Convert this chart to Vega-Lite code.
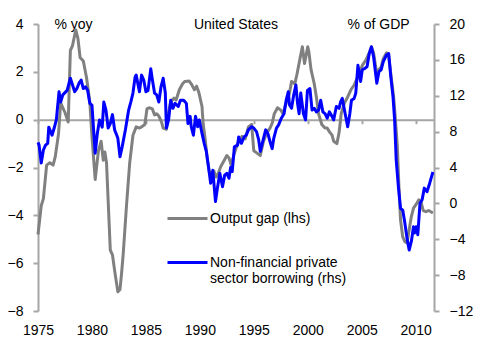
{
  "$schema": "https://vega.github.io/schema/vega-lite/v6.json",
  "width": 396,
  "height": 287,
  "autosize": {"type": "none"},
  "padding": {"left": 38, "top": 24, "right": 49, "bottom": 39},
  "background": "white",
  "config": {
    "font": "Liberation Sans",
    "view": {"stroke": null},
    "axis": {
      "labelFont": "Liberation Sans",
      "labelFontSize": 14,
      "labelColor": "black",
      "grid": false,
      "domainColor": "#a6a6a6",
      "tickColor": "#a6a6a6",
      "domainWidth": 2,
      "tickWidth": 2,
      "titleFont": "Liberation Sans",
      "titleFontSize": 14,
      "titleFontWeight": "normal",
      "titleColor": "black"
    }
  },
  "title": {
    "text": "United States",
    "fontSize": 14,
    "fontWeight": "normal",
    "font": "Liberation Sans",
    "color": "black",
    "anchor": "middle",
    "baseline": "middle",
    "offset": -22
  },
  "datasets": {
    "gap": [
      {"year": 1975.0, "value": -4.8, "series": "Output gap (lhs)"},
      {"year": 1975.3, "value": -3.6, "series": "Output gap (lhs)"},
      {"year": 1975.5, "value": -3.3, "series": "Output gap (lhs)"},
      {"year": 1975.8, "value": -1.9, "series": "Output gap (lhs)"},
      {"year": 1976.1, "value": -1.8, "series": "Output gap (lhs)"},
      {"year": 1976.4, "value": -1.9, "series": "Output gap (lhs)"},
      {"year": 1976.6, "value": -1.55, "series": "Output gap (lhs)"},
      {"year": 1976.9, "value": -0.6, "series": "Output gap (lhs)"},
      {"year": 1977.1, "value": 0.7, "series": "Output gap (lhs)"},
      {"year": 1977.5, "value": 0.3, "series": "Output gap (lhs)"},
      {"year": 1977.8, "value": -0.1, "series": "Output gap (lhs)"},
      {"year": 1978.0, "value": 2.9, "series": "Output gap (lhs)"},
      {"year": 1978.2, "value": 3.1, "series": "Output gap (lhs)"},
      {"year": 1978.5, "value": 3.75, "series": "Output gap (lhs)"},
      {"year": 1978.7, "value": 3.4, "series": "Output gap (lhs)"},
      {"year": 1978.9, "value": 2.6, "series": "Output gap (lhs)"},
      {"year": 1979.2, "value": 2.45, "series": "Output gap (lhs)"},
      {"year": 1979.5, "value": 1.75, "series": "Output gap (lhs)"},
      {"year": 1979.8, "value": 0.75, "series": "Output gap (lhs)"},
      {"year": 1980.0, "value": -0.7, "series": "Output gap (lhs)"},
      {"year": 1980.3, "value": -2.5, "series": "Output gap (lhs)"},
      {"year": 1980.6, "value": -1.3, "series": "Output gap (lhs)"},
      {"year": 1980.85, "value": -0.9, "series": "Output gap (lhs)"},
      {"year": 1981.05, "value": -1.7, "series": "Output gap (lhs)"},
      {"year": 1981.2, "value": -1.35, "series": "Output gap (lhs)"},
      {"year": 1981.35, "value": -1.8, "series": "Output gap (lhs)"},
      {"year": 1981.7, "value": -5.45, "series": "Output gap (lhs)"},
      {"year": 1981.9, "value": -5.65, "series": "Output gap (lhs)"},
      {"year": 1982.1, "value": -6.3, "series": "Output gap (lhs)"},
      {"year": 1982.4, "value": -7.2, "series": "Output gap (lhs)"},
      {"year": 1982.6, "value": -7.1, "series": "Output gap (lhs)"},
      {"year": 1982.75, "value": -6.4, "series": "Output gap (lhs)"},
      {"year": 1982.9, "value": -5.6, "series": "Output gap (lhs)"},
      {"year": 1983.2, "value": -3.6, "series": "Output gap (lhs)"},
      {"year": 1983.5, "value": -1.8, "series": "Output gap (lhs)"},
      {"year": 1983.8, "value": -0.65, "series": "Output gap (lhs)"},
      {"year": 1984.1, "value": -0.3, "series": "Output gap (lhs)"},
      {"year": 1984.4, "value": -0.35, "series": "Output gap (lhs)"},
      {"year": 1984.6, "value": -0.3, "series": "Output gap (lhs)"},
      {"year": 1984.9, "value": -0.2, "series": "Output gap (lhs)"},
      {"year": 1985.1, "value": 0.45, "series": "Output gap (lhs)"},
      {"year": 1985.3, "value": 0.5, "series": "Output gap (lhs)"},
      {"year": 1985.6, "value": 0.45, "series": "Output gap (lhs)"},
      {"year": 1985.8, "value": 0.2, "series": "Output gap (lhs)"},
      {"year": 1986.0, "value": 0.25, "series": "Output gap (lhs)"},
      {"year": 1986.2, "value": 0.15, "series": "Output gap (lhs)"},
      {"year": 1986.45, "value": -0.1, "series": "Output gap (lhs)"},
      {"year": 1986.6, "value": -0.35, "series": "Output gap (lhs)"},
      {"year": 1986.9, "value": -0.4, "series": "Output gap (lhs)"},
      {"year": 1987.1, "value": 0.3, "series": "Output gap (lhs)"},
      {"year": 1987.3, "value": 0.75, "series": "Output gap (lhs)"},
      {"year": 1987.6, "value": 0.9, "series": "Output gap (lhs)"},
      {"year": 1987.8, "value": 0.82, "series": "Output gap (lhs)"},
      {"year": 1988.1, "value": 1.25, "series": "Output gap (lhs)"},
      {"year": 1988.4, "value": 1.5, "series": "Output gap (lhs)"},
      {"year": 1988.6, "value": 1.6, "series": "Output gap (lhs)"},
      {"year": 1989.0, "value": 1.62, "series": "Output gap (lhs)"},
      {"year": 1989.2, "value": 1.5, "series": "Output gap (lhs)"},
      {"year": 1989.5, "value": 1.25, "series": "Output gap (lhs)"},
      {"year": 1989.7, "value": 1.4, "series": "Output gap (lhs)"},
      {"year": 1989.9, "value": 1.15, "series": "Output gap (lhs)"},
      {"year": 1990.2, "value": 0.55, "series": "Output gap (lhs)"},
      {"year": 1990.3, "value": -0.15, "series": "Output gap (lhs)"},
      {"year": 1990.5, "value": -0.85, "series": "Output gap (lhs)"},
      {"year": 1990.7, "value": -1.7, "series": "Output gap (lhs)"},
      {"year": 1990.9, "value": -2.25, "series": "Output gap (lhs)"},
      {"year": 1991.1, "value": -2.3, "series": "Output gap (lhs)"},
      {"year": 1991.3, "value": -2.15, "series": "Output gap (lhs)"},
      {"year": 1991.5, "value": -2.4, "series": "Output gap (lhs)"},
      {"year": 1991.7, "value": -2.25, "series": "Output gap (lhs)"},
      {"year": 1991.95, "value": -1.95, "series": "Output gap (lhs)"},
      {"year": 1992.2, "value": -1.75, "series": "Output gap (lhs)"},
      {"year": 1992.5, "value": -1.5, "series": "Output gap (lhs)"},
      {"year": 1992.7, "value": -1.6, "series": "Output gap (lhs)"},
      {"year": 1992.9, "value": -1.9, "series": "Output gap (lhs)"},
      {"year": 1993.2, "value": -1.4, "series": "Output gap (lhs)"},
      {"year": 1993.5, "value": -1.0, "series": "Output gap (lhs)"},
      {"year": 1993.9, "value": -0.7, "series": "Output gap (lhs)"},
      {"year": 1994.2, "value": -0.8, "series": "Output gap (lhs)"},
      {"year": 1994.5, "value": -0.3, "series": "Output gap (lhs)"},
      {"year": 1994.8, "value": -0.2, "series": "Output gap (lhs)"},
      {"year": 1995.0, "value": -1.3, "series": "Output gap (lhs)"},
      {"year": 1995.3, "value": -1.4, "series": "Output gap (lhs)"},
      {"year": 1995.6, "value": -1.5, "series": "Output gap (lhs)"},
      {"year": 1995.9, "value": -0.9, "series": "Output gap (lhs)"},
      {"year": 1996.2, "value": -0.55, "series": "Output gap (lhs)"},
      {"year": 1996.5, "value": -0.35, "series": "Output gap (lhs)"},
      {"year": 1996.7, "value": -0.15, "series": "Output gap (lhs)"},
      {"year": 1996.9, "value": 0.25, "series": "Output gap (lhs)"},
      {"year": 1997.2, "value": 0.5, "series": "Output gap (lhs)"},
      {"year": 1997.5, "value": 0.4, "series": "Output gap (lhs)"},
      {"year": 1997.7, "value": 0.25, "series": "Output gap (lhs)"},
      {"year": 1998.0, "value": 0.7, "series": "Output gap (lhs)"},
      {"year": 1998.3, "value": 1.1, "series": "Output gap (lhs)"},
      {"year": 1998.5, "value": 1.6, "series": "Output gap (lhs)"},
      {"year": 1998.8, "value": 1.5, "series": "Output gap (lhs)"},
      {"year": 1999.0, "value": 1.9, "series": "Output gap (lhs)"},
      {"year": 1999.3, "value": 2.6, "series": "Output gap (lhs)"},
      {"year": 1999.5, "value": 3.05, "series": "Output gap (lhs)"},
      {"year": 1999.7, "value": 2.35, "series": "Output gap (lhs)"},
      {"year": 2000.0, "value": 3.05, "series": "Output gap (lhs)"},
      {"year": 2000.1, "value": 2.85, "series": "Output gap (lhs)"},
      {"year": 2000.3, "value": 2.1, "series": "Output gap (lhs)"},
      {"year": 2000.6, "value": 1.5, "series": "Output gap (lhs)"},
      {"year": 2000.8, "value": 0.95, "series": "Output gap (lhs)"},
      {"year": 2001.0, "value": 0.25, "series": "Output gap (lhs)"},
      {"year": 2001.3, "value": -0.2, "series": "Output gap (lhs)"},
      {"year": 2001.6, "value": -0.35, "series": "Output gap (lhs)"},
      {"year": 2001.8, "value": -0.35, "series": "Output gap (lhs)"},
      {"year": 2002.0, "value": -0.5, "series": "Output gap (lhs)"},
      {"year": 2002.25, "value": -0.65, "series": "Output gap (lhs)"},
      {"year": 2002.4, "value": -0.9, "series": "Output gap (lhs)"},
      {"year": 2002.7, "value": -1.0, "series": "Output gap (lhs)"},
      {"year": 2002.9, "value": -0.55, "series": "Output gap (lhs)"},
      {"year": 2003.1, "value": 0.25, "series": "Output gap (lhs)"},
      {"year": 2003.4, "value": 0.7, "series": "Output gap (lhs)"},
      {"year": 2003.7, "value": 0.95, "series": "Output gap (lhs)"},
      {"year": 2004.0, "value": 1.25, "series": "Output gap (lhs)"},
      {"year": 2004.3, "value": 1.45, "series": "Output gap (lhs)"},
      {"year": 2004.6, "value": 1.75, "series": "Output gap (lhs)"},
      {"year": 2004.9, "value": 2.1, "series": "Output gap (lhs)"},
      {"year": 2005.1, "value": 2.3, "series": "Output gap (lhs)"},
      {"year": 2005.4, "value": 2.5, "series": "Output gap (lhs)"},
      {"year": 2005.7, "value": 2.8, "series": "Output gap (lhs)"},
      {"year": 2005.9, "value": 3.05, "series": "Output gap (lhs)"},
      {"year": 2006.1, "value": 2.8, "series": "Output gap (lhs)"},
      {"year": 2006.4, "value": 1.9, "series": "Output gap (lhs)"},
      {"year": 2006.6, "value": 2.1, "series": "Output gap (lhs)"},
      {"year": 2006.8, "value": 2.2, "series": "Output gap (lhs)"},
      {"year": 2007.0, "value": 2.55, "series": "Output gap (lhs)"},
      {"year": 2007.3, "value": 2.8, "series": "Output gap (lhs)"},
      {"year": 2007.5, "value": 2.65, "series": "Output gap (lhs)"},
      {"year": 2007.7, "value": 1.9, "series": "Output gap (lhs)"},
      {"year": 2007.96, "value": 0.95, "series": "Output gap (lhs)"},
      {"year": 2008.1, "value": 0.15, "series": "Output gap (lhs)"},
      {"year": 2008.3, "value": -1.1, "series": "Output gap (lhs)"},
      {"year": 2008.45, "value": -2.8, "series": "Output gap (lhs)"},
      {"year": 2008.6, "value": -4.2, "series": "Output gap (lhs)"},
      {"year": 2008.8, "value": -4.9, "series": "Output gap (lhs)"},
      {"year": 2009.0, "value": -5.1, "series": "Output gap (lhs)"},
      {"year": 2009.2, "value": -5.15, "series": "Output gap (lhs)"},
      {"year": 2009.4, "value": -4.6, "series": "Output gap (lhs)"},
      {"year": 2009.6, "value": -4.05, "series": "Output gap (lhs)"},
      {"year": 2009.8, "value": -3.7, "series": "Output gap (lhs)"},
      {"year": 2010.1, "value": -3.5, "series": "Output gap (lhs)"},
      {"year": 2010.3, "value": -3.35, "series": "Output gap (lhs)"},
      {"year": 2010.5, "value": -3.45, "series": "Output gap (lhs)"},
      {"year": 2010.7, "value": -3.8, "series": "Output gap (lhs)"},
      {"year": 2010.95, "value": -3.85, "series": "Output gap (lhs)"},
      {"year": 2011.2, "value": -3.8, "series": "Output gap (lhs)"},
      {"year": 2011.4, "value": -3.85, "series": "Output gap (lhs)"},
      {"year": 2011.6, "value": -3.9, "series": "Output gap (lhs)"}
    ],
    "borrow": [
      {"year": 1975.0, "value": 6.8, "series": "Non-financial private sector borrowing (rhs)"},
      {"year": 1975.1, "value": 6.5, "series": "Non-financial private sector borrowing (rhs)"},
      {"year": 1975.3, "value": 4.5, "series": "Non-financial private sector borrowing (rhs)"},
      {"year": 1975.5, "value": 5.95, "series": "Non-financial private sector borrowing (rhs)"},
      {"year": 1975.7, "value": 6.5, "series": "Non-financial private sector borrowing (rhs)"},
      {"year": 1975.9, "value": 6.7, "series": "Non-financial private sector borrowing (rhs)"},
      {"year": 1976.0, "value": 8.5, "series": "Non-financial private sector borrowing (rhs)"},
      {"year": 1976.3, "value": 7.6, "series": "Non-financial private sector borrowing (rhs)"},
      {"year": 1976.5, "value": 8.4, "series": "Non-financial private sector borrowing (rhs)"},
      {"year": 1976.7, "value": 9.3, "series": "Non-financial private sector borrowing (rhs)"},
      {"year": 1976.95, "value": 12.45, "series": "Non-financial private sector borrowing (rhs)"},
      {"year": 1977.1, "value": 11.3, "series": "Non-financial private sector borrowing (rhs)"},
      {"year": 1977.3, "value": 12.1, "series": "Non-financial private sector borrowing (rhs)"},
      {"year": 1977.7, "value": 12.6, "series": "Non-financial private sector borrowing (rhs)"},
      {"year": 1978.0, "value": 13.95, "series": "Non-financial private sector borrowing (rhs)"},
      {"year": 1978.2, "value": 13.2, "series": "Non-financial private sector borrowing (rhs)"},
      {"year": 1978.4, "value": 12.45, "series": "Non-financial private sector borrowing (rhs)"},
      {"year": 1978.6, "value": 12.8, "series": "Non-financial private sector borrowing (rhs)"},
      {"year": 1978.8, "value": 13.4, "series": "Non-financial private sector borrowing (rhs)"},
      {"year": 1979.0, "value": 13.75, "series": "Non-financial private sector borrowing (rhs)"},
      {"year": 1979.2, "value": 12.8, "series": "Non-financial private sector borrowing (rhs)"},
      {"year": 1979.4, "value": 13.0, "series": "Non-financial private sector borrowing (rhs)"},
      {"year": 1979.6, "value": 12.6, "series": "Non-financial private sector borrowing (rhs)"},
      {"year": 1979.8, "value": 11.15, "series": "Non-financial private sector borrowing (rhs)"},
      {"year": 1980.0, "value": 10.95, "series": "Non-financial private sector borrowing (rhs)"},
      {"year": 1980.3, "value": 5.6, "series": "Non-financial private sector borrowing (rhs)"},
      {"year": 1980.5, "value": 7.8, "series": "Non-financial private sector borrowing (rhs)"},
      {"year": 1980.7, "value": 9.3, "series": "Non-financial private sector borrowing (rhs)"},
      {"year": 1980.95, "value": 8.5, "series": "Non-financial private sector borrowing (rhs)"},
      {"year": 1981.1, "value": 11.3, "series": "Non-financial private sector borrowing (rhs)"},
      {"year": 1981.3, "value": 10.4, "series": "Non-financial private sector borrowing (rhs)"},
      {"year": 1981.5, "value": 8.4, "series": "Non-financial private sector borrowing (rhs)"},
      {"year": 1981.7, "value": 8.9, "series": "Non-financial private sector borrowing (rhs)"},
      {"year": 1981.9, "value": 9.9, "series": "Non-financial private sector borrowing (rhs)"},
      {"year": 1982.1, "value": 8.2, "series": "Non-financial private sector borrowing (rhs)"},
      {"year": 1982.3, "value": 7.6, "series": "Non-financial private sector borrowing (rhs)"},
      {"year": 1982.4, "value": 7.25, "series": "Non-financial private sector borrowing (rhs)"},
      {"year": 1982.6, "value": 5.2, "series": "Non-financial private sector borrowing (rhs)"},
      {"year": 1982.8, "value": 6.3, "series": "Non-financial private sector borrowing (rhs)"},
      {"year": 1983.1, "value": 8.2, "series": "Non-financial private sector borrowing (rhs)"},
      {"year": 1983.4, "value": 10.4, "series": "Non-financial private sector borrowing (rhs)"},
      {"year": 1983.6, "value": 11.3, "series": "Non-financial private sector borrowing (rhs)"},
      {"year": 1983.8, "value": 12.3, "series": "Non-financial private sector borrowing (rhs)"},
      {"year": 1984.0, "value": 14.1, "series": "Non-financial private sector borrowing (rhs)"},
      {"year": 1984.1, "value": 14.3, "series": "Non-financial private sector borrowing (rhs)"},
      {"year": 1984.4, "value": 12.45, "series": "Non-financial private sector borrowing (rhs)"},
      {"year": 1984.6, "value": 14.3, "series": "Non-financial private sector borrowing (rhs)"},
      {"year": 1984.8, "value": 13.75, "series": "Non-financial private sector borrowing (rhs)"},
      {"year": 1985.0, "value": 12.45, "series": "Non-financial private sector borrowing (rhs)"},
      {"year": 1985.2, "value": 12.6, "series": "Non-financial private sector borrowing (rhs)"},
      {"year": 1985.45, "value": 15.0, "series": "Non-financial private sector borrowing (rhs)"},
      {"year": 1985.6, "value": 13.8, "series": "Non-financial private sector borrowing (rhs)"},
      {"year": 1985.8, "value": 12.3, "series": "Non-financial private sector borrowing (rhs)"},
      {"year": 1986.0, "value": 12.1, "series": "Non-financial private sector borrowing (rhs)"},
      {"year": 1986.2, "value": 11.3, "series": "Non-financial private sector borrowing (rhs)"},
      {"year": 1986.4, "value": 13.0, "series": "Non-financial private sector borrowing (rhs)"},
      {"year": 1986.6, "value": 13.95, "series": "Non-financial private sector borrowing (rhs)"},
      {"year": 1986.8, "value": 12.3, "series": "Non-financial private sector borrowing (rhs)"},
      {"year": 1986.9, "value": 8.4, "series": "Non-financial private sector borrowing (rhs)"},
      {"year": 1987.1, "value": 9.3, "series": "Non-financial private sector borrowing (rhs)"},
      {"year": 1987.3, "value": 11.5, "series": "Non-financial private sector borrowing (rhs)"},
      {"year": 1987.5, "value": 10.6, "series": "Non-financial private sector borrowing (rhs)"},
      {"year": 1987.7, "value": 11.15, "series": "Non-financial private sector borrowing (rhs)"},
      {"year": 1988.0, "value": 10.8, "series": "Non-financial private sector borrowing (rhs)"},
      {"year": 1988.2, "value": 11.5, "series": "Non-financial private sector borrowing (rhs)"},
      {"year": 1988.5, "value": 11.5, "series": "Non-financial private sector borrowing (rhs)"},
      {"year": 1988.75, "value": 11.15, "series": "Non-financial private sector borrowing (rhs)"},
      {"year": 1988.9, "value": 8.9, "series": "Non-financial private sector borrowing (rhs)"},
      {"year": 1989.1, "value": 9.7, "series": "Non-financial private sector borrowing (rhs)"},
      {"year": 1989.2, "value": 8.55, "series": "Non-financial private sector borrowing (rhs)"},
      {"year": 1989.4, "value": 7.6, "series": "Non-financial private sector borrowing (rhs)"},
      {"year": 1989.6, "value": 9.7, "series": "Non-financial private sector borrowing (rhs)"},
      {"year": 1989.8, "value": 8.55, "series": "Non-financial private sector borrowing (rhs)"},
      {"year": 1989.95, "value": 9.3, "series": "Non-financial private sector borrowing (rhs)"},
      {"year": 1990.2, "value": 7.8, "series": "Non-financial private sector borrowing (rhs)"},
      {"year": 1990.4, "value": 6.7, "series": "Non-financial private sector borrowing (rhs)"},
      {"year": 1990.6, "value": 5.8, "series": "Non-financial private sector borrowing (rhs)"},
      {"year": 1990.8, "value": 4.1, "series": "Non-financial private sector borrowing (rhs)"},
      {"year": 1991.0, "value": 2.25, "series": "Non-financial private sector borrowing (rhs)"},
      {"year": 1991.2, "value": 3.7, "series": "Non-financial private sector borrowing (rhs)"},
      {"year": 1991.45, "value": 0.2, "series": "Non-financial private sector borrowing (rhs)"},
      {"year": 1991.6, "value": 1.5, "series": "Non-financial private sector borrowing (rhs)"},
      {"year": 1991.85, "value": 3.35, "series": "Non-financial private sector borrowing (rhs)"},
      {"year": 1992.1, "value": 1.85, "series": "Non-financial private sector borrowing (rhs)"},
      {"year": 1992.3, "value": 3.15, "series": "Non-financial private sector borrowing (rhs)"},
      {"year": 1992.5, "value": 3.35, "series": "Non-financial private sector borrowing (rhs)"},
      {"year": 1992.7, "value": 2.8, "series": "Non-financial private sector borrowing (rhs)"},
      {"year": 1992.85, "value": 4.0, "series": "Non-financial private sector borrowing (rhs)"},
      {"year": 1993.0, "value": 3.55, "series": "Non-financial private sector borrowing (rhs)"},
      {"year": 1993.2, "value": 6.3, "series": "Non-financial private sector borrowing (rhs)"},
      {"year": 1993.5, "value": 6.5, "series": "Non-financial private sector borrowing (rhs)"},
      {"year": 1993.6, "value": 7.4, "series": "Non-financial private sector borrowing (rhs)"},
      {"year": 1993.85, "value": 6.7, "series": "Non-financial private sector borrowing (rhs)"},
      {"year": 1994.1, "value": 7.4, "series": "Non-financial private sector borrowing (rhs)"},
      {"year": 1994.3, "value": 7.6, "series": "Non-financial private sector borrowing (rhs)"},
      {"year": 1994.5, "value": 8.2, "series": "Non-financial private sector borrowing (rhs)"},
      {"year": 1994.8, "value": 8.55, "series": "Non-financial private sector borrowing (rhs)"},
      {"year": 1995.0, "value": 8.4, "series": "Non-financial private sector borrowing (rhs)"},
      {"year": 1995.25, "value": 8.0, "series": "Non-financial private sector borrowing (rhs)"},
      {"year": 1995.45, "value": 7.1, "series": "Non-financial private sector borrowing (rhs)"},
      {"year": 1995.6, "value": 5.8, "series": "Non-financial private sector borrowing (rhs)"},
      {"year": 1995.9, "value": 7.25, "series": "Non-financial private sector borrowing (rhs)"},
      {"year": 1996.1, "value": 8.2, "series": "Non-financial private sector borrowing (rhs)"},
      {"year": 1996.3, "value": 7.8, "series": "Non-financial private sector borrowing (rhs)"},
      {"year": 1996.5, "value": 6.9, "series": "Non-financial private sector borrowing (rhs)"},
      {"year": 1996.7, "value": 6.1, "series": "Non-financial private sector borrowing (rhs)"},
      {"year": 1996.85, "value": 7.25, "series": "Non-financial private sector borrowing (rhs)"},
      {"year": 1997.1, "value": 8.4, "series": "Non-financial private sector borrowing (rhs)"},
      {"year": 1997.3, "value": 8.75, "series": "Non-financial private sector borrowing (rhs)"},
      {"year": 1997.55, "value": 9.5, "series": "Non-financial private sector borrowing (rhs)"},
      {"year": 1997.8, "value": 10.0, "series": "Non-financial private sector borrowing (rhs)"},
      {"year": 1998.0, "value": 11.5, "series": "Non-financial private sector borrowing (rhs)"},
      {"year": 1998.2, "value": 12.45, "series": "Non-financial private sector borrowing (rhs)"},
      {"year": 1998.3, "value": 11.0, "series": "Non-financial private sector borrowing (rhs)"},
      {"year": 1998.5, "value": 10.6, "series": "Non-financial private sector borrowing (rhs)"},
      {"year": 1998.7, "value": 12.1, "series": "Non-financial private sector borrowing (rhs)"},
      {"year": 1998.9, "value": 13.2, "series": "Non-financial private sector borrowing (rhs)"},
      {"year": 1999.05, "value": 11.2, "series": "Non-financial private sector borrowing (rhs)"},
      {"year": 1999.2, "value": 10.0, "series": "Non-financial private sector borrowing (rhs)"},
      {"year": 1999.35, "value": 12.3, "series": "Non-financial private sector borrowing (rhs)"},
      {"year": 1999.6, "value": 10.0, "series": "Non-financial private sector borrowing (rhs)"},
      {"year": 1999.8, "value": 9.3, "series": "Non-financial private sector borrowing (rhs)"},
      {"year": 1999.97, "value": 12.6, "series": "Non-financial private sector borrowing (rhs)"},
      {"year": 2000.2, "value": 12.8, "series": "Non-financial private sector borrowing (rhs)"},
      {"year": 2000.4, "value": 10.4, "series": "Non-financial private sector borrowing (rhs)"},
      {"year": 2000.6, "value": 10.6, "series": "Non-financial private sector borrowing (rhs)"},
      {"year": 2000.8, "value": 10.2, "series": "Non-financial private sector borrowing (rhs)"},
      {"year": 2001.0, "value": 10.4, "series": "Non-financial private sector borrowing (rhs)"},
      {"year": 2001.2, "value": 11.5, "series": "Non-financial private sector borrowing (rhs)"},
      {"year": 2001.4, "value": 10.2, "series": "Non-financial private sector borrowing (rhs)"},
      {"year": 2001.6, "value": 10.0, "series": "Non-financial private sector borrowing (rhs)"},
      {"year": 2001.8, "value": 9.5, "series": "Non-financial private sector borrowing (rhs)"},
      {"year": 2002.0, "value": 10.2, "series": "Non-financial private sector borrowing (rhs)"},
      {"year": 2002.25, "value": 9.7, "series": "Non-financial private sector borrowing (rhs)"},
      {"year": 2002.4, "value": 9.3, "series": "Non-financial private sector borrowing (rhs)"},
      {"year": 2002.65, "value": 10.8, "series": "Non-financial private sector borrowing (rhs)"},
      {"year": 2002.9, "value": 10.6, "series": "Non-financial private sector borrowing (rhs)"},
      {"year": 2003.05, "value": 11.35, "series": "Non-financial private sector borrowing (rhs)"},
      {"year": 2003.2, "value": 11.7, "series": "Non-financial private sector borrowing (rhs)"},
      {"year": 2003.4, "value": 10.4, "series": "Non-financial private sector borrowing (rhs)"},
      {"year": 2003.7, "value": 8.55, "series": "Non-financial private sector borrowing (rhs)"},
      {"year": 2003.9, "value": 10.0, "series": "Non-financial private sector borrowing (rhs)"},
      {"year": 2004.05, "value": 11.5, "series": "Non-financial private sector borrowing (rhs)"},
      {"year": 2004.3, "value": 11.7, "series": "Non-financial private sector borrowing (rhs)"},
      {"year": 2004.45, "value": 12.3, "series": "Non-financial private sector borrowing (rhs)"},
      {"year": 2004.65, "value": 15.4, "series": "Non-financial private sector borrowing (rhs)"},
      {"year": 2004.9, "value": 13.6, "series": "Non-financial private sector borrowing (rhs)"},
      {"year": 2005.05, "value": 14.9, "series": "Non-financial private sector borrowing (rhs)"},
      {"year": 2005.3, "value": 15.05, "series": "Non-financial private sector borrowing (rhs)"},
      {"year": 2005.5, "value": 15.25, "series": "Non-financial private sector borrowing (rhs)"},
      {"year": 2005.7, "value": 16.7, "series": "Non-financial private sector borrowing (rhs)"},
      {"year": 2005.9, "value": 17.45, "series": "Non-financial private sector borrowing (rhs)"},
      {"year": 2006.1, "value": 16.35, "series": "Non-financial private sector borrowing (rhs)"},
      {"year": 2006.4, "value": 13.4, "series": "Non-financial private sector borrowing (rhs)"},
      {"year": 2006.6, "value": 14.7, "series": "Non-financial private sector borrowing (rhs)"},
      {"year": 2006.8, "value": 14.9, "series": "Non-financial private sector borrowing (rhs)"},
      {"year": 2007.0, "value": 15.8, "series": "Non-financial private sector borrowing (rhs)"},
      {"year": 2007.3, "value": 16.55, "series": "Non-financial private sector borrowing (rhs)"},
      {"year": 2007.5, "value": 16.7, "series": "Non-financial private sector borrowing (rhs)"},
      {"year": 2007.7, "value": 14.1, "series": "Non-financial private sector borrowing (rhs)"},
      {"year": 2007.9, "value": 11.9, "series": "Non-financial private sector borrowing (rhs)"},
      {"year": 2008.05, "value": 9.3, "series": "Non-financial private sector borrowing (rhs)"},
      {"year": 2008.2, "value": 4.8, "series": "Non-financial private sector borrowing (rhs)"},
      {"year": 2008.4, "value": 1.85, "series": "Non-financial private sector borrowing (rhs)"},
      {"year": 2008.6, "value": -0.55, "series": "Non-financial private sector borrowing (rhs)"},
      {"year": 2008.8, "value": -0.75, "series": "Non-financial private sector borrowing (rhs)"},
      {"year": 2009.0, "value": -2.2, "series": "Non-financial private sector borrowing (rhs)"},
      {"year": 2009.2, "value": -3.9, "series": "Non-financial private sector borrowing (rhs)"},
      {"year": 2009.4, "value": -5.2, "series": "Non-financial private sector borrowing (rhs)"},
      {"year": 2009.6, "value": -4.25, "series": "Non-financial private sector borrowing (rhs)"},
      {"year": 2009.8, "value": -2.6, "series": "Non-financial private sector borrowing (rhs)"},
      {"year": 2009.9, "value": -3.3, "series": "Non-financial private sector borrowing (rhs)"},
      {"year": 2010.05, "value": -2.6, "series": "Non-financial private sector borrowing (rhs)"},
      {"year": 2010.2, "value": -3.5, "series": "Non-financial private sector borrowing (rhs)"},
      {"year": 2010.4, "value": 0.0, "series": "Non-financial private sector borrowing (rhs)"},
      {"year": 2010.6, "value": 0.4, "series": "Non-financial private sector borrowing (rhs)"},
      {"year": 2010.8, "value": 1.7, "series": "Non-financial private sector borrowing (rhs)"},
      {"year": 2011.05, "value": 1.3, "series": "Non-financial private sector borrowing (rhs)"},
      {"year": 2011.3, "value": 2.25, "series": "Non-financial private sector borrowing (rhs)"},
      {"year": 2011.6, "value": 3.5, "series": "Non-financial private sector borrowing (rhs)"}
    ]
  },
  "layer": [
    {
      "data": {"name": "gap"},
      "mark": {"type": "line", "strokeWidth": 3, "strokeJoin": "round"},
      "encoding": {
        "x": {
          "field": "year", "type": "quantitative",
          "scale": {"domain": [1975, 2011.7], "nice": false, "zero": false},
          "axis": {"values": [1975, 1980, 1985, 1990, 1995, 2000, 2005, 2010], "format": "d", "domain": false, "ticks": false, "labelPadding": 12, "title": null, "labelFlush": false}
        },
        "y": {
          "field": "value", "type": "quantitative",
          "scale": {"domain": [-8, 4], "nice": false, "zero": false},
          "axis": {"orient": "left", "values": [-8, -6, -4, -2, 0, 2, 4], "tickSize": 5, "labelPadding": 10, "title": "% yoy", "titleAngle": 0, "titleX": 35, "titleY": 0, "titleAlign": "center", "titleBaseline": "middle"}
        },
        "color": {
          "field": "series", "type": "nominal",
          "scale": {"domain": ["Output gap (lhs)", "Non-financial private sector borrowing (rhs)"], "range": ["#808080", "#0000ff"]},
          "legend": {
            "orient": "none", "legendX": 128, "legendY": 173, "title": null,
            "symbolType": "stroke", "symbolSize": 1600, "symbolStrokeWidth": 3,
            "labelFont": "Liberation Sans", "labelFontSize": 14, "labelColor": "black", "labelLimit": 400, "labelOffset": 1,
            "rowPadding": 15,
            "labelExpr": "datum.label == 'Non-financial private sector borrowing (rhs)' ? ['Non-financial private', 'sector borrowing (rhs)'] : datum.label"
          }
        }
      }
    },
    {
      "data": {"name": "borrow"},
      "mark": {"type": "line", "strokeWidth": 3, "strokeJoin": "round"},
      "encoding": {
        "x": {
          "field": "year", "type": "quantitative",
          "axis": {"orient": "top", "values": [1975, 1980, 1985, 1990, 1995, 2000, 2005, 2010], "labels": false, "domain": true, "ticks": true, "tickSize": -4, "offset": -95.67, "title": null}
        },
        "y": {
          "field": "value", "type": "quantitative",
          "scale": {"domain": [-12, 20], "nice": false, "zero": false},
          "axis": {"orient": "right", "values": [-12, -8, -4, 0, 4, 8, 12, 16, 20], "tickSize": 5, "labelPadding": 10, "title": "% of GDP", "titleAngle": 0, "titleX": -56, "titleY": 0, "titleAlign": "center", "titleBaseline": "middle"}
        },
        "color": {"field": "series", "type": "nominal"}
      }
    }
  ],
  "resolve": {"scale": {"y": "independent"}, "axis": {"x": "independent"}}
}
